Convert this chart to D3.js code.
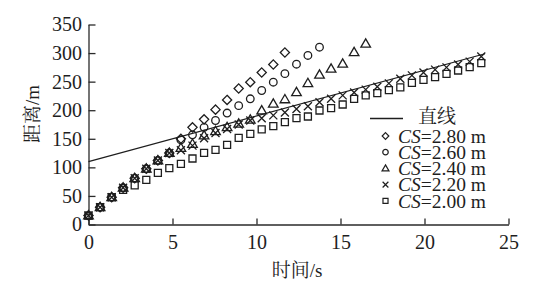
<!DOCTYPE html>
<html>
<head>
<meta charset="utf-8">
<script src="https://cdn.jsdelivr.net/npm/d3@7/dist/d3.min.js"></script>
<style>
  html, body { margin: 0; padding: 0; background: #fff; }
  svg { display: block; }
  text { font-family: "Liberation Serif", "Times New Roman", "Noto Serif CJK SC", "Noto Sans CJK SC", serif; fill: #1e1e1e; }
</style>
</head>
<body>
<svg id="chart" width="553" height="288"></svg>
<script>
// ---- data ----
const times = [0, 0.69, 1.38, 2.06, 2.75, 3.44, 4.13, 4.81, 5.5, 6.19, 6.88, 7.56, 8.25, 8.94,
  9.63, 10.31, 11, 11.69, 12.38, 13.06, 13.75, 14.44, 15.13, 15.81, 16.5, 17.19, 17.88,
  18.56, 19.25, 19.94, 20.63, 21.31, 22, 22.69, 23.38];
const cs280 = [15.7, 30.3, 47.8, 64.2, 81, 97.5, 112, 125, 150, 170, 184, 201, 218, 238, 249, 266, 280, 301];
const cs260 = [15.7, 30.3, 47.8, 64.2, 81, 97.5, 112, 125, 148, 157, 170, 182, 195, 208, 220, 234.5, 249, 264, 280.5, 295.8, 310.3];
const cs240 = [15.7, 30.3, 47.8, 64.2, 81, 97.5, 112, 125, 134, 141, 155.8, 163.3, 170.3, 176.2, 183.2, 199.5,
  211.2, 219, 231.5, 247.3, 262, 272.5, 281.2, 301.5, 316.2];
const cs220 = [15.7, 30.3, 47.8, 64.2, 81, 97.5, 112, 125, 130, 138, 151, 160, 167, 175, 182, 186, 191, 196,
  202, 207, 214, 220, 226, 231, 236, 241, 247, 255, 261, 266, 271, 275, 280, 285, 294];
const cs200 = [15.7, 30.3, 47.8, 60.7, 68.3, 78.2, 90.5, 98.5, 106.2, 115.5, 125.5, 130.7, 139.5, 151.7, 158.7,
  166.3, 172, 179, 186, 189, 199.5, 203.5, 210, 220, 225.8, 229.8, 235, 240, 248, 253, 257.8, 263.7, 269.5, 275.3, 282.3];
const lineX = [0, 23.6];
const lineY = [110, 298.8];
const seriesLabels = ["2.80", "2.60", "2.40", "2.20", "2.00"];
const seriesShapes = ["diamond", "circle", "triangle", "cross", "square"];
const lineLabel = "直线";
const xTicks = [0, 5, 10, 15, 20, 25];
const yTicks = [0, 50, 100, 150, 200, 250, 300, 350];
const xTitle = "时间/s";
const yTitle = "距离/m";

// ---- drawing ----
const svg = d3.select("#chart");
const x = d3.scaleLinear().domain([0, 25]).range([88.5, 508.5]);
const y = d3.scaleLinear().domain([0, 350]).range([224.5, 24.5]);

function markerPath(type, s) {
  if (type === "diamond") { const h = 4.6 * s; return `M0,${-h}L${h},0L0,${h}L${-h},0Z`; }
  if (type === "circle") { const r = 3.8 * s; return `M${r},0A${r},${r} 0 1,1 ${-r},0A${r},${r} 0 1,1 ${r},0Z`; }
  if (type === "triangle") { const w = 4.8 * s, t = 4.9 * s, b = 3.4 * s; return `M0,${-t}L${w},${b}L${-w},${b}Z`; }
  if (type === "cross") { const h = 4 * s; return `M${-h},${-h}L${h},${h}M${-h},${h}L${h},${-h}`; }
  const h = 3.5 * s; return `M${-h},${-h}H${h}V${h}H${-h}Z`;
}

// axes
const xAxis = d3.axisBottom(x).tickValues(xTicks).tickSize(-6).tickSizeOuter(0).tickPadding(10);
const yAxis = d3.axisLeft(y).tickValues(yTicks).tickSize(-7).tickSizeOuter(0).tickPadding(6.5);
const gx = svg.append("g").attr("transform", `translate(0,${y(0)})`).call(xAxis);
const gy = svg.append("g").attr("transform", `translate(${x(0)},0)`).call(yAxis);
[gx, gy].forEach(g => {
  g.selectAll("path, line").attr("stroke", "#2a2a2a").attr("stroke-width", 1.3);
  g.selectAll("text").attr("font-size", 20).attr("font-family", "Liberation Serif").attr("fill", "#1e1e1e");
});

// titles
svg.append("text").attr("x", 297).attr("y", 270).attr("dy", "0.35em")
  .attr("text-anchor", "middle").attr("font-size", 19).text(xTitle);
svg.append("text").attr("transform", `translate(32,114) rotate(-90)`).attr("dy", "0.35em")
  .attr("text-anchor", "middle").attr("font-size", 19).text(yTitle);

// straight line
svg.append("line")
  .attr("x1", x(lineX[0])).attr("y1", y(lineY[0]))
  .attr("x2", x(lineX[1])).attr("y2", y(lineY[1]))
  .attr("stroke", "#1e1e1e").attr("stroke-width", 1.2);

// series
const allSeries = [cs280, cs260, cs240, cs220, cs200];
allSeries.forEach((vals, si) => {
  svg.append("g").selectAll("path").data(vals).join("path")
    .attr("transform", (d, i) => `translate(${x(times[i])},${y(d)})`)
    .attr("d", markerPath(seriesShapes[si], 1))
    .attr("fill", "none").attr("stroke", "#1e1e1e").attr("stroke-width", 1.3);
});

// legend
const lg = svg.append("g");
lg.append("line").attr("x1", 370).attr("x2", 403).attr("y1", 118.5).attr("y2", 118.5)
  .attr("stroke", "#1e1e1e").attr("stroke-width", 1.3);
lg.append("text").attr("x", 418).attr("y", 116.5).attr("dy", "0.35em").attr("font-size", 19).text(lineLabel);
seriesLabels.forEach((lab, i) => {
  const cy = 136 + i * 16.2;
  lg.append("path").attr("transform", `translate(385.5,${cy})`)
    .attr("d", markerPath(seriesShapes[i], 0.72))
    .attr("fill", "none").attr("stroke", "#1e1e1e").attr("stroke-width", 1.2);
  const t = lg.append("text").attr("x", 398).attr("y", cy).attr("dy", "0.35em").attr("font-size", 19.5);
  t.append("tspan").attr("font-style", "italic").text("CS");
  t.append("tspan").text("=" + lab + " m");
});
</script>
</body>
</html>
